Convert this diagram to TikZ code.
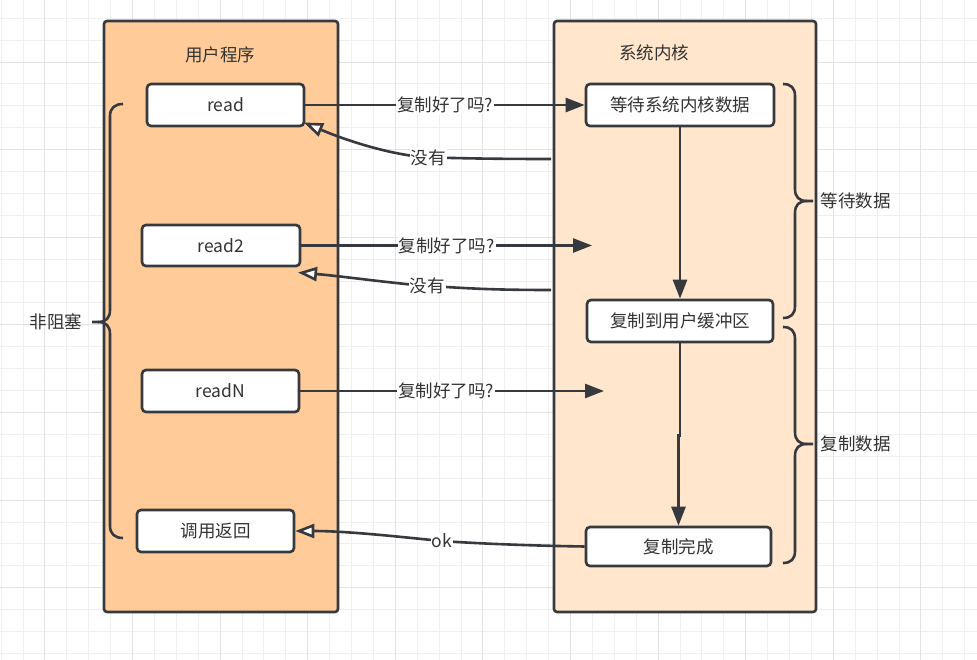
\documentclass[tikz,border=0pt]{standalone}
\usepackage{fontspec}
\newfontfamily\cjk{Noto Sans CJK SC}
\usetikzlibrary{arrows.meta}
\definecolor{strk}{HTML}{36393D}
\definecolor{userfill}{HTML}{FFCC99}
\definecolor{kernfill}{HTML}{FFE6CC}
\definecolor{txt}{HTML}{333333}
\definecolor{gmincol}{HTML}{F0F0F0}
\definecolor{gmajcol}{HTML}{E3E3E3}
\begin{document}
\begin{tikzpicture}[x=1pt,y=-1pt,
  every node/.style={font=\cjk\fontsize{17.5}{20}\selectfont, text=txt},
  gmin/.style={draw=gmincol, line width=1pt},
  gmaj/.style={draw=gmajcol, line width=1pt},
  container/.style={draw=strk, line width=2.6pt, rounded corners=3pt, inner sep=0pt},
  box/.style={draw=strk, line width=2.6pt, fill=white, rounded corners=4pt, inner sep=0pt},
  flow/.style={draw=strk, line width=2.6pt, -{Triangle[length=19pt,width=14pt]}},
  back/.style={draw=strk, line width=2.6pt, -{Triangle[open,length=19pt,width=14pt,fill=white]}},
  lbl/.style={fill=white, inner sep=1pt},
  brace/.style={draw=strk, line width=2.6pt}]
\useasboundingbox (0,0) rectangle (977,660);
\fill[white] (0,0) rectangle (977,660);
% grid
\foreach \k in {0,...,44} \draw[gmin] ({1.1+21.9*\k},0) -- ++(0,660);
\foreach \k in {1,...,30} \draw[gmin] (0,{-3.6+21.9*\k}) -- ++(977,0);
\foreach \k in {2,6,...,42} \draw[gmaj] ({1.1+21.9*\k},0) -- ++(0,660);
\foreach \k in {3,7,...,27} \draw[gmaj] (0,{-3.6+21.9*\k}) -- ++(977,0);
% containers
\node[container, fill=userfill, minimum width=234pt, minimum height=591pt] (user) at (221,316.5) {};
\node[container, fill=kernfill, minimum width=262pt, minimum height=591pt] (kernel) at (685,316.5) {};
\node (usertitle) at (220,55) {用户程序};
\node (kerntitle) at (654,53) {系统内核};
% boxes
\node[box, minimum width=157pt, minimum height=42pt] (read) at (225.5,105) {read};
\node[box, minimum width=158pt, minimum height=41pt] (read2) at (221,245.5) {read2};
\node[box, minimum width=157pt, minimum height=42pt] (readN) at (220.5,391) {readN};
\node[box, minimum width=157pt, minimum height=42pt] (callret) at (215.5,531) {调用返回};
\node[box, minimum width=188pt, minimum height=42pt] (wait) at (680,105) {等待系统内核数据};
\node[box, minimum width=186pt, minimum height=42pt] (copy) at (680,321) {复制到用户缓冲区};
\node[box, minimum width=185pt, minimum height=39pt] (done) at (678.5,546.5) {复制完成};
% free ends
\coordinate (q2) at (592,245.5);
\coordinate (qN) at (604,391);
\coordinate (n1) at (551,159);
\coordinate (r1) at (304,122.5);
\coordinate (n2) at (551,290);
\coordinate (r2) at (298,272.5);
% connectors
\draw[flow] (read.east) -- node[lbl]{复制好了吗?} (wait.west);
\draw[flow] (read2.east) -- node[lbl]{复制好了吗?} (q2);
\draw[flow] (readN.east) -- node[lbl,pos=0.48]{复制好了吗?} (qN);
\draw[back] (n1) .. controls (480,159) and (460,158) .. (428,157.5) node[lbl]{没有} .. controls (390,155) and (345,140) .. (r1);
\draw[back] (n2) .. controls (480,290) and (460,287.5) .. (427,286) node[lbl]{没有} .. controls (390,283) and (340,276) .. (r2);
\draw[back] (done.west) .. controls (520,545.5) and (470,543) .. (442,541) node[lbl]{ok} .. controls (410,538) and (350,531) .. (callret.east);
\draw[flow] (wait.south) -- (copy.north);
\draw[flow] (copy.south) -- ++(0,92) -| (done.north);
% braces
\draw[brace] (123,104) .. controls (115,104) and (110,108) .. (110,116) -- (110,310) .. controls (110,318) and (106,322) .. (98,322) -- (92,322);
\draw[brace] (98,322) .. controls (106,322) and (110,326) .. (110,334) -- (110,526) .. controls (110,534) and (115,538) .. (123,538);
\node[anchor=east] (nb) at (86,322) {非阻塞};
\draw[brace] (783,84) .. controls (791,84) and (795,88) .. (795,96) -- (795,189) .. controls (795,197) and (799,201) .. (807,201) -- (813,201);
\draw[brace] (807,201) .. controls (799,201) and (795,205) .. (795,213) -- (795,306) .. controls (795,314) and (791,318) .. (783,318);
\node[anchor=west] (wd) at (817,201) {等待数据};
\draw[brace] (783,327) .. controls (791,327) and (795,331) .. (795,339) -- (795,432) .. controls (795,440) and (799,444) .. (807,444) -- (813,444);
\draw[brace] (807,444) .. controls (799,444) and (795,448) .. (795,456) -- (795,551) .. controls (795,559) and (791,563) .. (783,563);
\node[anchor=west] (cd) at (817,444) {复制数据};
\end{tikzpicture}
\end{document}
